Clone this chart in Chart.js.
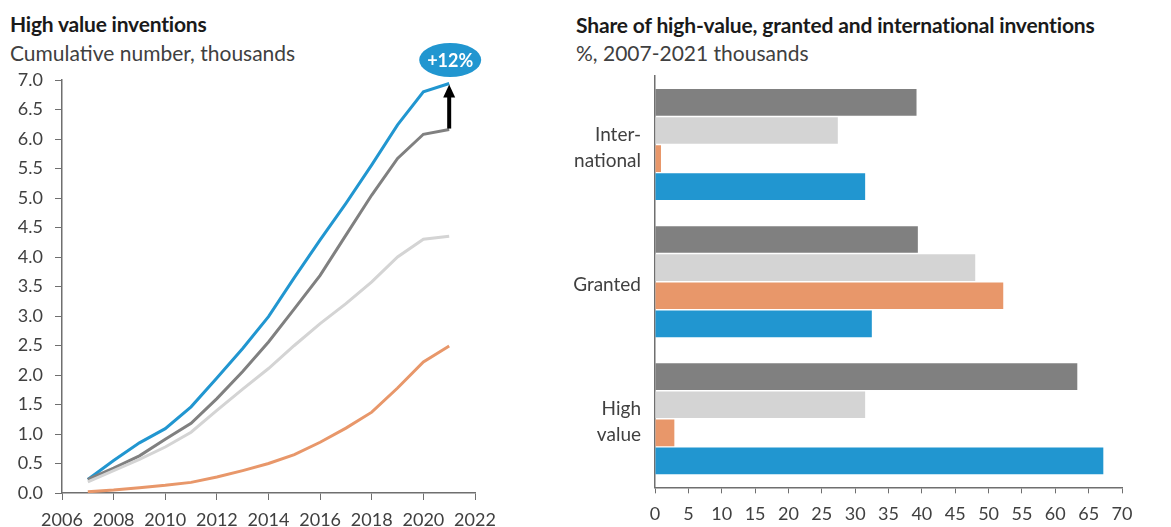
<!DOCTYPE html>
<html>
<head>
<meta charset="utf-8">
<script src="https://cdn.jsdelivr.net/npm/chart.js@4.4.1/dist/chart.umd.min.js"></script>
<style>
  body { margin: 0; background: #fff; width: 1171px; height: 527px; position: relative; overflow: hidden; font-family: Lato, "Open Sans", sans-serif; }
  .title { position: absolute; font-weight: bold; font-size: 21px; color: #1a1a1a; letter-spacing: -0.2px; }
  .sub { position: absolute; font-size: 21px; color: #404040; }
  canvas { position: absolute; top: 0; }
</style>
</head>
<body>
<div class="title" style="left:10px; top:11px;">High value inventions</div>
<div class="sub" style="left:10px; top:40px;">Cumulative number, thousands</div>
<div class="title" style="left:576px; top:12px; letter-spacing:-0.15px;">Share of high-value, granted and international inventions</div>
<div class="sub" style="left:576px; top:40px;">%, 2007-2021 thousands</div>

<canvas id="line-chart" style="left:0px;" width="520" height="527"></canvas>
<canvas id="bar-chart" style="left:560px;" width="611" height="527"></canvas>

<script>
// left chart: cumulative counts, thousands
const years = [2007, 2008, 2009, 2010, 2011, 2012, 2013, 2014, 2015, 2016, 2017, 2018, 2019, 2020, 2021];
const blueSeries = [0.23, 0.55, 0.85, 1.09, 1.46, 1.95, 2.45, 2.99, 3.65, 4.29, 4.91, 5.56, 6.24, 6.80, 6.94];
const darkSeries = [0.23, 0.42, 0.63, 0.91, 1.18, 1.60, 2.06, 2.56, 3.12, 3.69, 4.37, 5.05, 5.67, 6.08, 6.16];
const lightSeries = [0.19, 0.38, 0.57, 0.78, 1.03, 1.40, 1.76, 2.11, 2.50, 2.87, 3.21, 3.58, 4.00, 4.30, 4.35];
const orangeSeries = [0.02, 0.05, 0.09, 0.13, 0.18, 0.27, 0.38, 0.50, 0.65, 0.86, 1.10, 1.37, 1.78, 2.22, 2.49];
const badgeText = '+12%';

// right chart: shares, %
const groups = [['Inter-', 'national'], 'Granted', ['High', 'value']];
const darkShares = [39.2, 39.4, 63.3];
const lightShares = [27.4, 48.0, 31.5];
const orangeShares = [0.9, 52.2, 2.9];
const blueShares = [31.5, 32.5, 67.2];

const BLUE = '#2196d0';
const DARK = '#808080';
const LIGHT = '#d4d4d4';
const ORANGE = '#e8976a';
const AXIS = '#6f6f6f';
const TEXT = '#404040';
const tickFont = { family: 'Lato', size: 18 };

function toPoints(values) {
    return values.map((v, i) => ({ x: years[i], y: v }));
}

function lineSet(label, values, color) {
    return {
        label: label,
        data: toPoints(values),
        borderColor: color,
        borderWidth: 3,
        pointRadius: 0,
        tension: 0,
        fill: false
    };
}

// arrow from the grey line up to the blue line in 2021 plus the +12% bubble
const badgePlugin = {
    id: 'badge',
    afterDatasetsDraw(chart) {
        const ctx = chart.ctx;
        const xs = chart.scales.x;
        const ys = chart.scales.y;
        const last = years.length - 1;
        const x = xs.getPixelForValue(years[last]);
        const yFrom = ys.getPixelForValue(darkSeries[last]);
        const yTo = ys.getPixelForValue(blueSeries[last]);

        ctx.save();
        ctx.strokeStyle = '#000';
        ctx.fillStyle = '#000';
        ctx.lineWidth = 4;
        ctx.beginPath();
        ctx.moveTo(x, yFrom - 1);
        ctx.lineTo(x, yTo + 12);
        ctx.stroke();
        ctx.beginPath();
        ctx.moveTo(x, yTo + 1);
        ctx.lineTo(x - 6, yTo + 14);
        ctx.lineTo(x + 6, yTo + 14);
        ctx.closePath();
        ctx.fill();

        const cy = chart.chartArea.top - 20;
        ctx.fillStyle = BLUE;
        ctx.beginPath();
        ctx.ellipse(x + 1, cy, 31, 17, 0, 0, Math.PI * 2);
        ctx.fill();
        ctx.fillStyle = '#fff';
        ctx.font = 'bold 18px Lato';
        ctx.textAlign = 'center';
        ctx.textBaseline = 'middle';
        ctx.fillText(badgeText, x + 1, cy + 1);
        ctx.restore();
    }
};

new Chart(document.getElementById('line-chart'), {
    type: 'line',
    data: {
        datasets: [
            lineSet('Light', lightSeries, LIGHT),
            lineSet('Orange', orangeSeries, ORANGE),
            lineSet('Dark', darkSeries, DARK),
            lineSet('Blue', blueSeries, BLUE)
        ]
    },
    options: {
        responsive: false,
        animation: false,
        layout: { padding: { top: 80, left: 0, right: 45, bottom: 0 } },
        plugins: { legend: { display: false }, tooltip: { enabled: false } },
        scales: {
            x: {
                type: 'linear',
                min: 2006,
                max: 2022,
                ticks: { stepSize: 2, color: TEXT, font: tickFont, padding: 9, callback: v => String(v) },
                grid: { drawOnChartArea: false, drawTicks: true, tickLength: 7, color: AXIS },
                border: { color: AXIS, width: 1.5 },
                afterFit: s => { s.height = 34; }
            },
            y: {
                min: 0,
                max: 7,
                ticks: { stepSize: 0.5, color: TEXT, font: tickFont, padding: 12, callback: v => v.toFixed(1) },
                grid: { drawOnChartArea: false, drawTicks: true, tickLength: 7, color: AXIS },
                border: { color: AXIS, width: 1.5 },
                afterFit: s => { s.width = 62; }
            }
        }
    },
    plugins: [badgePlugin]
});

function barSet(label, values, color) {
    return {
        label: label,
        data: values,
        backgroundColor: color,
        borderWidth: 0,
        categoryPercentage: 0.82,
        barPercentage: 0.95
    };
}

new Chart(document.getElementById('bar-chart'), {
    type: 'bar',
    data: {
        labels: groups,
        datasets: [
            barSet('Dark', darkShares, DARK),
            barSet('Light', lightShares, LIGHT),
            barSet('Orange', orangeShares, ORANGE),
            barSet('Blue', blueShares, BLUE)
        ]
    },
    options: {
        indexAxis: 'y',
        responsive: false,
        animation: false,
        layout: { padding: { top: 76, left: 0, right: 49, bottom: 0 } },
        plugins: { legend: { display: false }, tooltip: { enabled: false } },
        scales: {
            x: {
                min: 0,
                max: 70,
                ticks: { stepSize: 5, color: TEXT, font: tickFont, padding: 10 },
                grid: { drawOnChartArea: false, drawTicks: true, tickLength: 6, color: AXIS },
                border: { color: AXIS, width: 1.5 },
                afterFit: s => { s.height = 34; }
            },
            y: {
                ticks: { color: TEXT, font: { family: 'Lato', size: 19, lineHeight: 1.35 }, padding: 14, labelOffset: 3 },
                grid: { drawOnChartArea: false, drawTicks: false },
                border: { color: AXIS, width: 1.5 },
                afterFit: s => { s.width = 95; }
            }
        }
    }
});
</script>
</body>
</html>
